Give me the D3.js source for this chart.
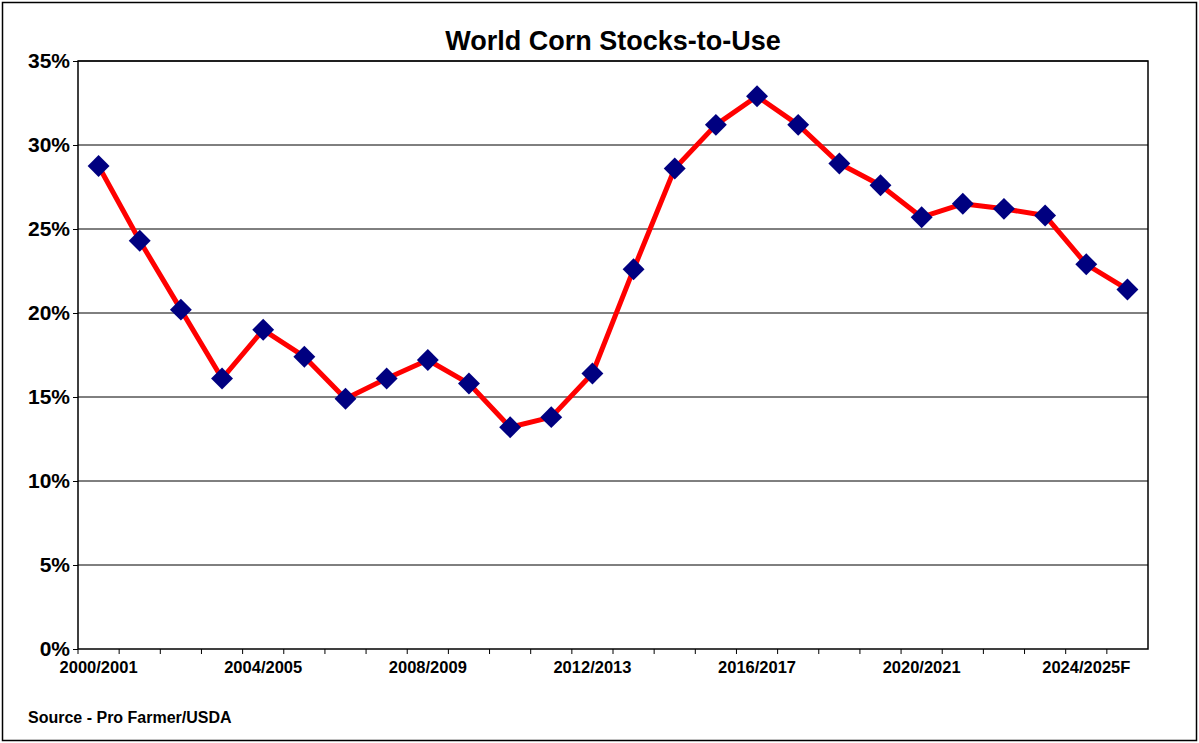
<!DOCTYPE html>
<html><head><meta charset="utf-8">
<script src="https://cdn.jsdelivr.net/npm/d3@7"></script>
<style>body{margin:0;background:#fff;font-family:"Liberation Sans",Arial,sans-serif;}</style>
</head><body><svg id="c" width="1199" height="743"></svg>
<script>
const years = ['2000/2001','2001/2002','2002/2003','2003/2004','2004/2005','2005/2006','2006/2007','2007/2008','2008/2009','2009/2010','2010/2011','2011/2012','2012/2013','2013/2014','2014/2015','2015/2016','2016/2017','2017/2018','2018/2019','2019/2020','2020/2021','2021/2022','2022/2023','2023/2024','2024/2025F','2025/2026F'];
const stocksToUse = [28.75,24.3,20.2,16.1,19.0,17.4,14.9,16.1,17.2,15.8,13.2,13.8,16.4,22.6,28.6,31.2,32.9,31.2,28.9,27.6,25.7,26.5,26.2,25.8,22.9,21.4];
const yTicks = [0,5,10,15,20,25,30,35];

const svg = d3.select('#c');
const m = { top: 61, right: 51, bottom: 94, left: 78 };
const W = 1199, H = 743;

// outer frame
svg.append('rect').attr('x', 2.5).attr('y', 2.5).attr('width', W - 5).attr('height', H - 5)
    .attr('fill', 'none').attr('stroke', '#000').attr('stroke-width', 1.5);

const x = d3.scaleBand().domain(years).range([m.left, W - m.right]);
const y = d3.scaleLinear().domain([0, 35]).range([H - m.bottom, m.top]);

// gridlines
svg.append('g').selectAll('line').data(yTicks.slice(1)).enter().append('line')
    .attr('x1', m.left).attr('x2', W - m.right)
    .attr('y1', d => y(d)).attr('y2', d => y(d))
    .attr('stroke', '#000').attr('stroke-width', 1);

svg.append('rect').attr('x', m.left).attr('y', m.top)
    .attr('width', W - m.right - m.left).attr('height', H - m.bottom - m.top)
    .attr('fill', 'none').attr('stroke', '#000').attr('stroke-width', 1.5);

// y axis
const ya = svg.append('g').attr('transform', `translate(${m.left},0)`)
    .call(d3.axisLeft(y).tickValues(yTicks).tickFormat(d => d + '%').tickSize(5));
ya.select('.domain').remove();
ya.selectAll('text').style('font-size', '21px').style('font-weight', 'bold')
    .style('font-family', '"Liberation Sans",Arial,sans-serif').attr('fill', '#000');

// x axis
const xa = svg.append('g').attr('transform', `translate(0,${H - m.bottom})`)
    .call(d3.axisBottom(x).tickValues(years.filter((d, i) => i % 4 === 0)).tickSize(0).tickPadding(12));
xa.select('.domain').remove();
xa.selectAll('text').style('font-size', '16.5px').style('font-weight', 'bold')
    .style('font-family', '"Liberation Sans",Arial,sans-serif').attr('fill', '#000');
// category tick marks
svg.append('g').selectAll('line').data(years).enter().append('line')
    .attr('x1', d => x(d)).attr('x2', d => x(d))
    .attr('y1', H - m.bottom).attr('y2', H - m.bottom + 5).attr('stroke', '#000');

const cx = d => x(d) + x.bandwidth() / 2;
const line = d3.line().x((d, i) => cx(years[i])).y(d => y(d));
svg.append('path').datum(stocksToUse).attr('d', line)
    .attr('fill', 'none').attr('stroke', '#ff0000').attr('stroke-width', 5)
    .attr('stroke-linejoin', 'round');

svg.append('g').selectAll('path').data(stocksToUse).enter().append('path')
    .attr('d', d3.symbol(d3.symbolSquare, 240)())
    .attr('transform', (d, i) => `translate(${cx(years[i])},${y(d)}) rotate(45)`)
    .attr('fill', '#000080');

svg.append('text').attr('x', (m.left + W - m.right) / 2).attr('y', 50)
    .attr('text-anchor', 'middle').style('font-size', '27px').style('font-weight', 'bold')
    .text('World Corn Stocks-to-Use');

svg.append('text').attr('x', 28).attr('y', 723)
    .style('font-size', '16px').style('font-weight', 'bold')
    .text('Source - Pro Farmer/USDA');
</script></body></html>
